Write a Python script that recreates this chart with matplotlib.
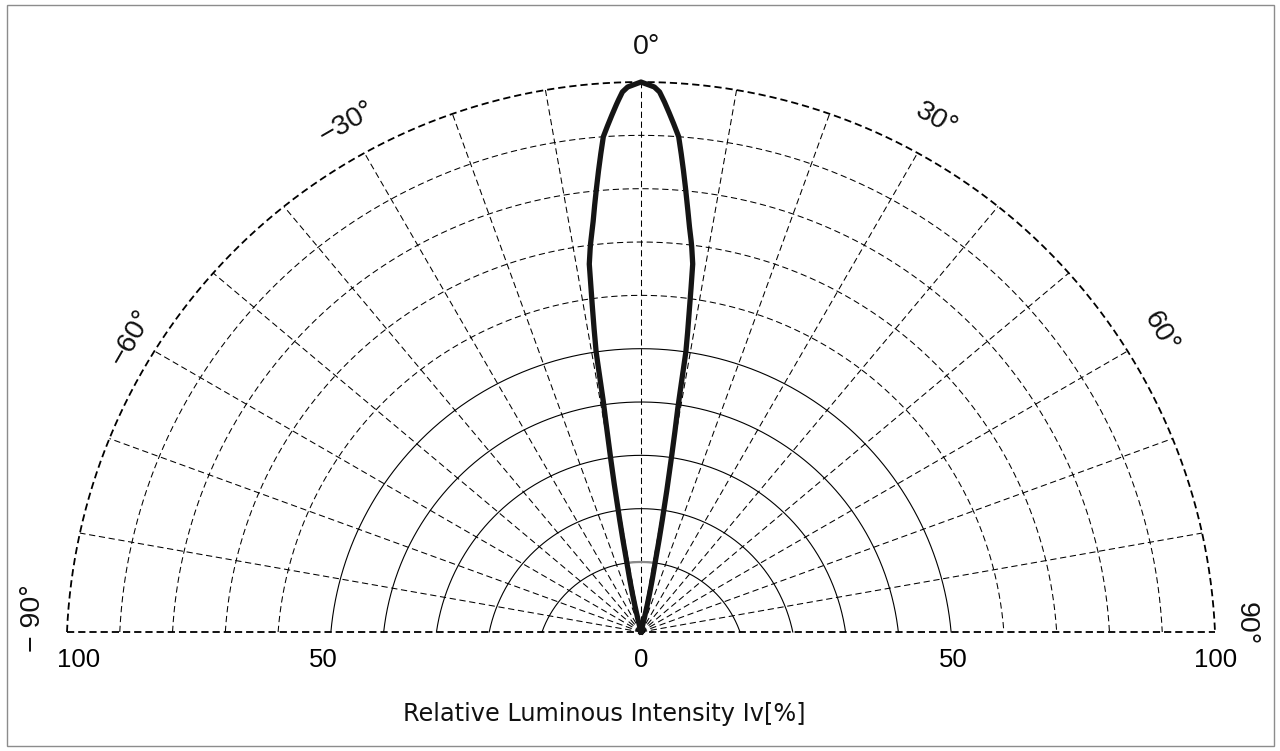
import numpy as np
import matplotlib
matplotlib.use("Agg")
import matplotlib.pyplot as plt
from matplotlib.patches import Rectangle

# ---------------- data ----------------
angle_deg = [-14, -11.5, -10.6, -9.9, -9.3, -9.1, -8.4, -8.0, -7.45, -6.7, -5.8, -4.35, -2.55, -1.97, -1.4, 0,
             1.4, 1.97, 2.55, 4.35, 5.8, 6.7, 7.45, 8.0, 8.4, 9.1, 9.3, 9.9, 10.6, 11.5, 14]
intensity = [0, 10, 20, 30, 40, 50, 60, 66.5, 70, 74, 80, 90, 96.3, 98.2, 99.1, 100,
             99.1, 98.2, 96.3, 90, 80, 74, 70, 66.5, 60, 50, 40, 30, 20, 10, 0]
ring_values = [10, 20, 30, 40, 50, 60, 70, 80, 90, 100]
spoke_angles = [-80, -70, -60, -50, -40, -30, -20, -10, 0, 10, 20, 30, 40, 50, 60, 70, 80]
angle_label_pos = [-90, -60, -30, 0, 30, 60, 90]
angle_label_txt = ["\u2212 90\u00b0", "\u221260\u00b0", "\u221230\u00b0", "0\u00b0", "30\u00b0", "60\u00b0", "90\u00b0"]
tick_labels = ["100", "50", "0", "50", "100"]
xlabel = "Relative Luminous Intensity Iv[%]"

# ---------------- geometry (pixel based scale) ----------------
W, H = 1280, 751
CX, CY = 641.0, 632.0
PX = 5.74  # pixels per data unit


def ring_hv(k):
    h = (99.0 + 52.78 * (k - 1)) / PX
    v = (70.0 + 53.33 * (k - 1)) / PX
    return h, v


def ring_t(k, th):
    h, v = ring_hv(k)
    R = (v + h * h / v) / 2.0
    d = (h * h / v - v) / 2.0
    c = np.cos(th)
    return -d * c + np.sqrt(d * d * c * c + R * R - d * d)


def radius(val, th):
    k = val / 10.0
    if k <= 1:
        return k * ring_t(1, th)
    lo = int(np.floor(k))
    if lo >= 10:
        return ring_t(10, th)
    f = k - lo
    return (1 - f) * ring_t(lo, th) + f * ring_t(lo + 1, th)


fig = plt.figure(figsize=(W / 100, H / 100), dpi=100)
ax = fig.add_axes([0, 0, 1, 1])
ax.set_xlim(-CX / PX, (W - CX) / PX)
ax.set_ylim(-(H - CY) / PX, CY / PX)
ax.axis("off")

# border
fig.patches.append(Rectangle((7 / W, 5 / H), (1274 - 7) / W, (746 - 5) / H,
                             transform=fig.transFigure, fill=False,
                             edgecolor="#8c8c8c", lw=1.0))

# rings
th = np.radians(np.linspace(-90, 90, 721))
for val in ring_values:
    k = val // 10
    t = ring_t(k, th)
    x, y = t * np.sin(th), t * np.cos(th)
    if val == 100:
        ax.plot(x, y, color="black", lw=1.3, ls=(0, (4.0, 2.2)))
    elif val > 50:
        ax.plot(x, y, color="black", lw=0.75, ls=(0, (6.0, 3.5)))
    else:
        ax.plot(x, y, color="black", lw=0.8, ls="-")

# spokes
for a in spoke_angles:
    ta = np.radians(a)
    r = ring_t(10, ta)
    ax.plot([0, r * np.sin(ta)], [0, r * np.cos(ta)], color="black", lw=0.75,
            ls=(0, (6.0, 3.5)))

# baseline
rb = ring_t(10, np.radians(90))
ax.plot([-rb, rb], [0, 0], color="black", lw=1.3, ls=(0, (4.0, 2.2)))

# gray segment on first ring inside the lobe
thg = np.radians(np.linspace(-11.5, 11.5, 30))
tg = ring_t(1, thg)
ax.plot(tg * np.sin(thg), tg * np.cos(thg), color="#8a8a8a", lw=1.6)

# intensity curve: path follows the polar scale between data points
cx, cy = [], []
for i in range(len(angle_deg) - 1):
    a0, a1 = angle_deg[i], angle_deg[i + 1]
    v0, v1 = intensity[i], intensity[i + 1]
    for s in np.linspace(0, 1, 16, endpoint=False):
        a = a0 + (a1 - a0) * s
        v = v0 + (v1 - v0) * s
        ta = np.radians(a)
        r = radius(v, ta)
        cx.append(r * np.sin(ta))
        cy.append(r * np.cos(ta))
ta = np.radians(angle_deg[-1])
r = radius(intensity[-1], ta)
cx.append(r * np.sin(ta))
cy.append(r * np.cos(ta))
ax.plot(cx, cy, color="#151515", lw=3.8, solid_joinstyle="round", zorder=5)

# angle labels
label_r = [608, 588, 588, 585, 591, 600, 605]
for a, txt, rp in zip(angle_label_pos, angle_label_txt, label_r):
    r = rp / PX
    adj = {-90: 1.3, 90: 0.8}.get(a, 0)
    ta2 = np.radians(a - np.sign(a) * adj) if a != 0 else 0.0
    ax.text(r * np.sin(ta2) + (1.0 if a == 0 else 0), r * np.cos(ta2), txt,
            rotation=-a, ha="center", va="center", fontsize=20.5,
            family="Liberation Sans", color="#111111", rotation_mode="anchor")

# tick labels along baseline
tick_px = [78.5, 323.5, 641, 953, 1216]
for px, lab in zip(tick_px, tick_labels):
    ax.text((px - CX) / PX, -(660 - CY) / PX, lab, ha="center", va="center",
            fontsize=18.5, family="Liberation Sans", color="black")

ax.text((604 - CX) / PX, -(714 - CY) / PX, xlabel, ha="center", va="center",
        fontsize=17.3, family="DejaVu Sans", color="#111111")

fig.savefig("out.png", dpi=100)
